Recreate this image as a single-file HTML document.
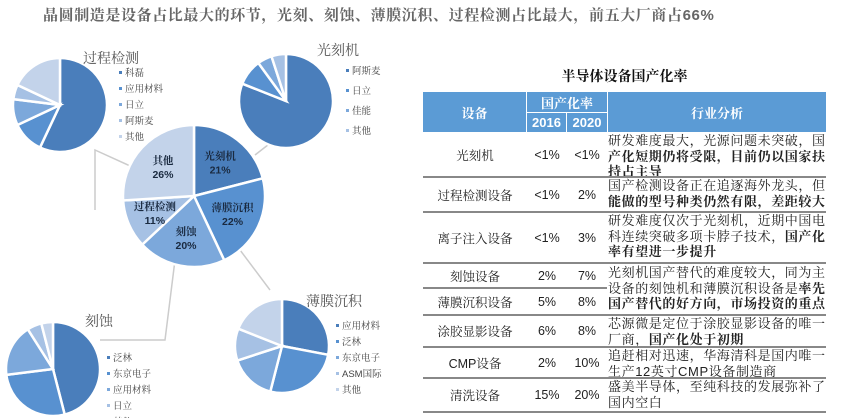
<!DOCTYPE html>
<html><head><meta charset="utf-8">
<style>
body{margin:0;width:846px;height:418px;overflow:hidden;background:#fff;font-family:"Liberation Sans","Noto Serif CJK SC","Noto Sans CJK SC",sans-serif;position:relative}
.abs{position:absolute}
#title{left:43px;top:4px;font-size:15px;font-weight:bold;color:#666;letter-spacing:0.6px;white-space:nowrap}
#ttitle{left:423px;top:66px;width:403px;text-align:center;font-size:14px;font-weight:bold;color:#111}
.hdr{background:#5b9bd5;color:#fff;font-weight:bold;display:flex;align-items:center;justify-content:center;font-size:13px}
.cell{display:flex;align-items:center;justify-content:center;font-size:12.5px;color:#222}
.ana{font-size:13px;line-height:15.5px;color:#222;letter-spacing:0.6px;padding-left:0}
.ana b{font-weight:bold}
.line{height:1.5px;background:#888}
</style></head><body>
<div id="title" class="abs">晶圆制造是设备占比最大的环节，光刻、刻蚀、薄膜沉积、过程检测占比最大，前五大厂商占66%</div>

<svg id="pies" class="abs" style="left:0;top:0" width="420" height="418"></svg>

<div id="ttitle" class="abs">半导体设备国产化率</div>
<div id="table"></div>

<script>
const mainCats=["光刻机","薄膜沉积","刻蚀","过程检测","其他"];
const mainVals=[21,22,20,11,26];
const inspCats=["科磊","应用材料","日立","阿斯麦","其他"];
const inspVals=[57,11,9,5,18];
const litCats=["阿斯麦","日立","佳能","其他"];
const litVals=[81,9,5,5];
const etchCats=["泛林","东京电子","应用材料","日立","其他"];
const etchVals=[46,27,18,5,4];
const depCats=["应用材料","泛林","东京电子","ASM国际","其他"];
const depVals=[28,26,16,11,19];

const colors=["#4a7ebb","#5891d0","#7ca8db","#a6c1e4","#c3d3ea"];
const NS="http://www.w3.org/2000/svg";
const svg=document.getElementById("pies");
function mk(tag,attrs){const e=document.createElementNS(NS,tag);for(const k in attrs)e.setAttribute(k,attrs[k]);svg.appendChild(e);return e;}

// connector lines
[[150,175,95,150,95,210],[255,155,300,120],[175,260,165,340,100,340],[240,250,270,290]].forEach(p=>{
  const pts=[];for(let i=0;i<p.length;i+=2)pts.push(p[i]+","+p[i+1]);
  const l=mk("polyline",{points:pts.join(" "),fill:"none",stroke:"#ccc","stroke-width":1.5});
  
  
});

function pie(name,cx,cy,r,cats,vals,opt){
  const tot=vals.reduce((a,b)=>a+b,0);
  let a0=-Math.PI/2;
  vals.forEach((v,i)=>{
    const a1=a0+v/tot*2*Math.PI;
    const x0=cx+r*Math.cos(a0),y0=cy+r*Math.sin(a0),x1=cx+r*Math.cos(a1),y1=cy+r*Math.sin(a1);
    const large=(a1-a0)>Math.PI?1:0;
    const p=mk("path",{d:`M${cx},${cy}L${x0},${y0}A${r},${r} 0 ${large} 1 ${x1},${y1}Z`,fill:colors[i],stroke:"#fff","stroke-width":2.5});
    
    
    if(opt.labels){
      const am=(a0+a1)/2,lr=r*0.6;
      const lx=cx+lr*Math.cos(am),ly=cy+lr*Math.sin(am);
      const t=mk("text",{x:lx,y:ly-3,"text-anchor":"middle","font-size":10.5,"font-weight":"bold",fill:"#1a2a40"});
      t.textContent=cats[i];
      
      
      const t2=mk("text",{x:lx,y:ly+11,"text-anchor":"middle","font-size":10.5,"font-weight":"bold",fill:"#1a2a40"});
      t2.textContent=v+"%";
      
      
    }
    a0=a1;
  });
  if(opt.title){
    const t=mk("text",{x:opt.title[0],y:opt.title[1],"font-size":14,fill:"#555"});
    t.textContent=opt.title[2];
    
    
  }
  if(opt.legend){
    cats.forEach((c,i)=>{
      const y=opt.legend[1]+i*opt.legend[2];
      const s=mk("rect",{x:opt.legend[0],y:y-4,width:3,height:3,fill:colors[i]});
      
      
      const t=mk("text",{x:opt.legend[0]+6,y:y+1,"font-size":9.5,fill:"#444"});
      t.textContent=c;
      
      
    });
  }
}
pie("main",194,196,71,mainCats,mainVals,{labels:true});
pie("inspection",60,105,47,inspCats,inspVals,{title:[83,63,"过程检测"],legend:[119,75,16]});
pie("lithography",286,101,47,litCats,litVals,{title:[317,55,"光刻机"],legend:[346,73,20]});
pie("etch",53,369,47,etchCats,etchVals,{title:[85,326,"刻蚀"],legend:[107,360,16]});
pie("deposition",282,346,47,depCats,depVals,{title:[306,306,"薄膜沉积"],legend:[336,328,16]});

// table
const rows=[
 ["光刻机","<1%","<1%","研发难度最大，光源问题未突破，国<b>产化短期仍将受限，目前仍以国家扶持占主导</b>",132,177],
 ["过程检测设备","<1%","2%","国产检测设备正在追逐海外龙头，但<b>能做的型号种类仍然有限，差距较大</b>",177,212],
 ["离子注入设备","<1%","3%","研发难度仅次于光刻机，近期中国电科连续突破多项卡脖子技术，<b>国产化率有望进一步提升</b>",212,263],
 ["刻蚀设备","2%","7%","",263,288],
 ["薄膜沉积设备","5%","8%","",288,315],
 ["涂胶显影设备","6%","8%","芯源微是定位于涂胶显影设备的唯一厂商，<b>国产化处于初期</b>",315,347],
 ["CMP设备","2%","10%","追赶相对迅速，华海清科是国内唯一生产12英寸CMP设备制造商",347,378],
 ["清洗设备","15%","20%","盛美半导体，至纯科技的发展弥补了国内空白",378,412]
];
const tb=document.getElementById("table");
function div(cls,style,html,name){const d=document.createElement("div");d.className="abs "+cls;d.setAttribute("style",style);d.innerHTML=html;tb.appendChild(d);return d;}
div("hdr","left:423px;top:92px;width:103px;height:40px;","设备","header-equipment");
div("hdr","left:527px;top:92px;width:80px;height:20px;","国产化率","header-rate");
div("hdr","left:527px;top:113px;width:39px;height:19px;","2016","header-2016");
div("hdr","left:567px;top:113px;width:40px;height:19px;","2020","header-2020");
div("hdr","left:608px;top:92px;width:218px;height:40px;","行业分析","header-analysis");
rows.forEach((r,i)=>{
  const h=r[5]-r[4];
  div("cell",`left:423px;top:${r[4]}px;width:104px;height:${h}px;`,r[0],"row-equipment-"+i);
  div("cell",`left:527px;top:${r[4]}px;width:40px;height:${h}px;`,r[1].replace("<","&lt;"),"row-2016-"+i);
  div("cell",`left:567px;top:${r[4]}px;width:40px;height:${h}px;`,r[2].replace("<","&lt;"),"row-2020-"+i);
  if(r[3]) div("ana",`left:608px;top:${r[4]+1}px;width:222px;`,r[3],"row-analysis-"+i);
  const full=(i!==3);
  div("line",`left:423px;top:${r[5]-1}px;width:${full?403:184}px;`,"","row-divider-"+i);
});
div("ana","left:608px;top:265px;width:222px;","光刻机国产替代的难度较大，同为主设备的刻蚀机和薄膜沉积设备是<b>率先国产替代的好方向，市场投资的重点</b>","row-analysis-etch-deposition");
</script>
</body></html>
